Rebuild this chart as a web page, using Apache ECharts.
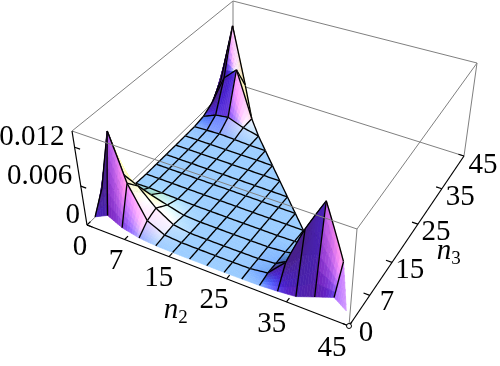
<!DOCTYPE html>
<html><head><meta charset="utf-8"><style>html,body{margin:0;padding:0;background:#fff}#c{width:500px;height:366px}</style>
<script src="https://cdn.jsdelivr.net/npm/echarts@6/dist/echarts.min.js"></script></head><body><div id="c"></div>
<script>
// heights in thousandths; rows follow n3 = gridN[j], entries follow n2 = gridN[i]
const gridN=[1,3.5,6,9,12,15,18,21,24,27,30,33,36,39,42,44];
const row0=[1,2,.9,.3,.08,.03,.02,.02,.02,.03,.08,.25,.5,1.5,2.5,1.2];
const row1=[4,13.6,6.3,1.5,.25,.05,.03,.02,.03,.06,.4,3,9,14.2,6.2];
const row2=[2.5,5.5,4.5,2,.4,.03,.02,.02,.03,.05,.3,1.8,7,5];
const row3=[.8,1.2,1.5,.8,.15,.02,.02,.02,.03,.05,.25,.8,2];
const row4=[.15,.2,.15,.1,.03,.02,.02,.02,.03,.03,.1,.2];
const row5=[.03,.04,.03,.02,.02,.02,.02,.02,.02,.03,.03];
const row6=[.02,.02,.02,.02,.02,.02,.02,.02,.02,.02];
const row7=[.02,.02,.02,.02,.02,.02,.02,.02,.02];
const row8=[.02,.02,.02,.02,.02,.02,.02,.02];
const row9=[.03,.03,.03,.03,.02,.02,.02];
const row10=[.05,.15,.25,.15,.04,.03];
const row11=[.3,1.2,1.5,.6,.05];
const row12=[1.2,6,8,.6];
const row13=[3.5,13.5,4];
const row14=[2.5,3.5];
const row15=[1];
const heightRows=[row0,row1,row2,row3,row4,row5,row6,row7,row8,row9,row10,row11,row12,row13,row14,row15];
const n2Ticks=[0,7,15,25,35,45];
const n3Ticks=[0,7,15,25,35,45];
const zTicks=[0,0.006,0.012];

const NMAX=45,ZMAX=14.5,SUB=7,ZS=1.2;
const base=[[87,225],[349,326],[464,156],[233,83]];
const top_=[[72,131],[357,229],[477,63],[233,1]];
function homog(q){const [p0,p1,p2,p3]=q;
 const dx1=p1[0]-p2[0],dx2=p3[0]-p2[0],sx=p0[0]-p1[0]+p2[0]-p3[0];
 const dy1=p1[1]-p2[1],dy2=p3[1]-p2[1],sy=p0[1]-p1[1]+p2[1]-p3[1];
 const d=dx1*dy2-dx2*dy1,g=(sx*dy2-dx2*sy)/d,h=(dx1*sy-sx*dy1)/d;
 const a=p1[0]-p0[0]+g*p1[0],b=p3[0]-p0[0]+h*p3[0],c=p0[0];
 const e=p1[1]-p0[1]+g*p1[1],f=p3[1]-p0[1]+h*p3[1],k=p0[1];
 return (u,v)=>{const w=g*u+h*v+1;return [(a*u+b*v+c)/w,(e*u+f*v+k)/w];};}
const HB=homog(base),HT=homog(top_);
function project(n2,n3,z){const u=n2/NMAX,v=n3/NMAX,t=z/ZMAX;const a=HB(u,v),b=HT(u,v);
 return [a[0]+(b[0]-a[0])*t,a[1]+(b[1]-a[1])*t];}
const zAt=(i,j)=>heightRows[j][i];
const has=(i,j)=>j>=0&&j<heightRows.length&&i>=0&&i<heightRows[j].length;
function nodeN(i,j){const l=has(i-1,j)?i-1:i,r=has(i+1,j)?i+1:i,d=has(i,j-1)?j-1:j,u=has(i,j+1)?j+1:j;
 const dx=(zAt(r,j)-zAt(l,j))*ZS/((gridN[r]-gridN[l])||1),dy=(zAt(i,u)-zAt(i,d))*ZS/((gridN[u]-gridN[d])||1);
 return norm([-dx,-dy,1]);}
function norm(v){const m=Math.hypot(v[0],v[1],v[2])||1;return [v[0]/m,v[1]/m,v[2]/m];}
function shade(n){const [x,y,z]=n;
 const R=Math.max(72,135+200*x+40*y+20*z),
  G=Math.max(32,65+(x<0?180:120)*x+(y<0?70:80)*y+140*z),
  B=Math.max(140,65+96*x-78*y+205*z);
 const c=v=>Math.max(0,Math.min(255,Math.round(v)));
 return 'rgb('+c(R)+','+c(G)+','+c(B)+')';}

const cells=[];
heightRows.forEach((r,j)=>r.forEach((_,i)=>{if(has(i+1,j)||has(i,j+1))cells.push([i,j]);}));
cells.sort((a,b)=>(a[0]-a[1])-(b[0]-b[1]));

function lerpN(a,b,c,d,u,v){return [0,1,2].map(k=>a[k]*(1-u)*(1-v)+b[k]*u*(1-v)+c[k]*(1-u)*v+d[k]*u*v);}
function cellItem(p,api){
 const i=api.value(0),j=api.value(1),kids=[];
 const quad=has(i+1,j+1);
 const N00=nodeN(i,j),N10=has(i+1,j)?nodeN(i+1,j):N00,N01=has(i,j+1)?nodeN(i,j+1):N00;
 const N11=quad?nodeN(i+1,j+1):[N10[0]+N01[0]-N00[0],N10[1]+N01[1]-N00[1],N10[2]+N01[2]-N00[2]];
 const z00=zAt(i,j),z10=zAt(i+1,j),z01=zAt(i,j+1),z11=quad?zAt(i+1,j+1):z10+z01-z00;
 const hgt=(u,v)=>z00*(1-u)*(1-v)+z10*u*(1-v)+z01*(1-u)*v+z11*u*v;
 const nx0=gridN[i],nxd=gridN[i+1]-gridN[i],ny0=gridN[j],nyd=gridN[j+1]-gridN[j];
 const P=(u,v)=>api.coord(project(nx0+u*nxd,ny0+v*nyd,hgt(u,v)));
 const subs=[];
 for(let a=0;a<SUB;a++)for(let b=0;b<SUB;b++){subs.push([a,b]);}
 subs.sort((s,t)=>(s[0]-s[1])-(t[0]-t[1]));
 subs.forEach(([a,b])=>{
  const u0=a/SUB,u1=(a+1)/SUB,v0=b/SUB,v1=(b+1)/SUB;
  if(!quad&&u0+v0>=0.9999)return;
  const uc=(u0+u1)/2,vc=(v0+v1)/2;
  const fx=(hgt(u1,vc)-hgt(u0,vc))/(u1-u0)*ZS/nxd,fy=(hgt(uc,v1)-hgt(uc,v0))/(v1-v0)*ZS/nyd;
  const nn=norm(lerpN(N00,N10,N01,N11,uc,vc)),ff=norm([-fx,-fy,1]);
  const col=shade(norm([.3*nn[0]+ff[0],.3*nn[1]+ff[1],.3*nn[2]+ff[2]]));
  let pts;
  if(!quad&&u1+v1>1.0001){pts=[P(u0,v0),P(u1,v0),P(u0,v1)];}
  else pts=[P(u0,v0),P(u1,v0),P(u1,v1),P(u0,v1)];
  kids.push({type:'polygon',shape:{points:pts},style:{fill:col,stroke:col,lineWidth:0.6},silent:true});
 });
 const line=(f)=>{const pts=[];for(let k=0;k<=SUB;k++)pts.push(f(k/SUB));
  kids.push({type:'polyline',shape:{points:pts},style:{fill:null,stroke:'#000',lineWidth:1.35},silent:true});};
 if(quad)line(t=>P(t,1));
 if(has(i,j+1))line(t=>P(0,t));
 if(!quad&&j>1)line(t=>P(t,1-t));
 return {type:'group',children:kids};
}
function segSeries(segs,color,width,z){return {type:'custom',coordinateSystem:'cartesian2d',clip:false,z:z,silent:true,
 data:segs.map((s,i)=>[i]),encode:{x:0},
 renderItem:(p,api)=>{const s=segs[api.value(0)];return {type:'line',shape:{x1:api.coord(s[0])[0],y1:api.coord(s[0])[1],x2:api.coord(s[1])[0],y2:api.coord(s[1])[1]},style:{stroke:color,lineWidth:width}};}};}
const P3=project;
const backBox=[[P3(0,45,0),P3(45,45,0)],[P3(0,45,0),P3(0,45,ZMAX)],[P3(0,45,ZMAX),P3(45,45,ZMAX)],[P3(0,0,ZMAX),P3(0,45,ZMAX)],[P3(0,0,0),P3(0,45,0)]];
const frontBox=[[P3(0,0,ZMAX),P3(45,0,ZMAX)],[P3(45,0,ZMAX),P3(45,45,ZMAX)],[P3(45,0,0),P3(45,0,ZMAX)],[P3(45,45,0),P3(45,45,ZMAX)]];
const axes=[[P3(0,0,0),P3(45,0,0)],[P3(45,0,0),P3(45,45,0)],[P3(0,0,0),P3(0,0,ZMAX)]];
n2Ticks.forEach(n=>axes.push([P3(n,0,0),P3(n,0.9,0)]));
n3Ticks.forEach(n=>axes.push([P3(45,n,0),P3(44,n,0)]));
zTicks.forEach(z=>axes.push([P3(0,0,z*1000),P3(1,0,z*1000)]));

const labels=[];
n2Ticks.forEach(n=>{const q=P3(n,0,0),t=n/45;labels.push({s:String(n),x:q[0]-7-10*t,y:q[1]+22,a:'center'});});
n3Ticks.forEach(n=>{const q=P3(45,n,0),t=n/45;labels.push({s:String(n),x:q[0]+17+2*t,y:q[1]+7+2*t,a:'center'});});
zTicks.forEach(z=>{const q=P3(0,0,z*1000),t=z/0.012;labels.push({s:String(z),x:q[0]-7-3*t,y:q[1]-10,a:'right'});});
const FONT='"Liberation Serif",serif';
const labelSeries={type:'custom',coordinateSystem:'cartesian2d',clip:false,z:6,silent:true,data:labels.map((l,i)=>[i]),encode:{x:0},
 renderItem:(p,api)=>{const l=labels[api.value(0)],c=api.coord([l.x,l.y]);
  return {type:'text',x:c[0],y:c[1],style:{text:l.s,font:'29px '+FONT,fill:'#000',textAlign:l.a,textVerticalAlign:'middle'}};}};
const titles=[{s:'n',sub:'2',x:171,y:310},{s:'n',sub:'3',x:444,y:251}];
const titleSeries={type:'custom',coordinateSystem:'cartesian2d',clip:false,z:6,silent:true,data:titles.map((l,i)=>[i]),encode:{x:0},
 renderItem:(p,api)=>{const l=titles[api.value(0)],c=api.coord([l.x,l.y]);
  return {type:'group',children:[
   {type:'text',x:c[0],y:c[1],style:{text:l.s,font:'italic 29px '+FONT,fill:'#000',textAlign:'center',textVerticalAlign:'middle'}},
   {type:'text',x:c[0]+12,y:c[1]+8,style:{text:l.sub,font:'19px '+FONT,fill:'#000',textAlign:'center',textVerticalAlign:'middle'}}]};}};
const surface={type:'custom',coordinateSystem:'cartesian2d',clip:false,z:3,silent:true,data:cells,encode:{x:0,y:1},renderItem:cellItem};
const marker={type:'custom',coordinateSystem:'cartesian2d',clip:false,z:5,silent:true,data:[[0]],encode:{x:0},
 renderItem:(p,api)=>{const c=api.coord(P3(45,0,0));return {type:'circle',shape:{cx:c[0],cy:c[1],r:2.5},style:{fill:'#fff',stroke:'#000',lineWidth:1}};}};
const chart=echarts.init(document.getElementById('c'),null,{renderer:'canvas'});
chart.setOption({animation:false,backgroundColor:'#fff',
 grid:{left:0,right:0,top:0,bottom:0},
 xAxis:{type:'value',min:0,max:500,show:false},yAxis:{type:'value',min:0,max:366,inverse:true,show:false},
 series:[segSeries(backBox,'#808080',1,1),surface,segSeries(frontBox,'#808080',1,4),segSeries(axes,'#000',1.2,5),marker,labelSeries,titleSeries]});
</script></body></html>
